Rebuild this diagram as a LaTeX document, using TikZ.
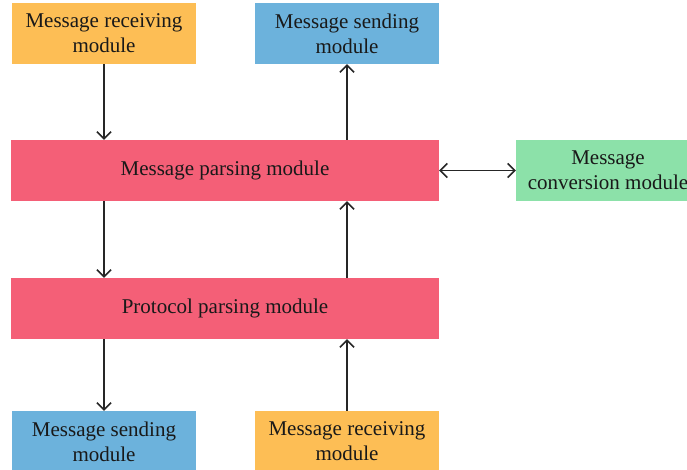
\documentclass[tikz,border=0pt]{standalone}
\usepackage{fontspec}
\setmainfont{Liberation Serif}
\usetikzlibrary{arrows.meta}
\definecolor{cOrange}{HTML}{FDBE55}
\definecolor{cBlue}{HTML}{6CB2DC}
\definecolor{cPink}{HTML}{F45F77}
\definecolor{cGreen}{HTML}{8CE1A9}
\begin{document}
\begin{tikzpicture}[x=1pt,y=-1pt,
  box/.style={inner sep=0pt, align=center, font=\fontsize{21}{25}\selectfont, text=black!90},
  conn/.style={draw=black!85, line width=1.5pt, -{Straight Barb[length=7pt,width=14pt]}},
  biconn/.style={draw=black!85, line width=1.5pt, {Straight Barb[length=7pt,width=14pt]}-{Straight Barb[length=7pt,width=14pt]}}]
\useasboundingbox (0,0) rectangle (687,470);
\node[box, fill=cOrange, minimum width=184pt, minimum height=61pt] (recvT) at (104,33.5) {Message receiving\\module};
\node[box, fill=cBlue, minimum width=184pt, minimum height=61pt] (sendT) at (347,33.5) {Message sending\\module};
\node[box, fill=cPink, minimum width=428pt, minimum height=61pt] (mparse) at (225,170.5) {Message parsing module};
\node[box, fill=cGreen, minimum width=184pt, minimum height=61pt] (conv) at (608,170.5) {Message\\conversion module};
\node[box, fill=cPink, minimum width=428pt, minimum height=61pt] (pparse) at (225,308.5) {Protocol parsing module};
\node[box, fill=cBlue, minimum width=184pt, minimum height=61pt] (sendB) at (104,441.5) {Message sending\\module};
\node[box, fill=cOrange, minimum width=184pt, minimum height=61pt] (recvB) at (347,441.5) {Message receiving\\module};
\draw[conn] (recvT.south) -- (recvT.south |- mparse.north);
\draw[conn] (sendT.south |- mparse.north) -- (sendT.south);
\draw[conn] (recvT.south |- mparse.south) -- (recvT.south |- pparse.north);
\draw[conn] (sendT.south |- pparse.north) -- (sendT.south |- mparse.south);
\draw[conn] (sendB.north |- pparse.south) -- (sendB.north);
\draw[conn] (recvB.north) -- (recvB.north |- pparse.south);
\draw[biconn] (mparse.east) -- (conv.west);
\end{tikzpicture}
\end{document}
